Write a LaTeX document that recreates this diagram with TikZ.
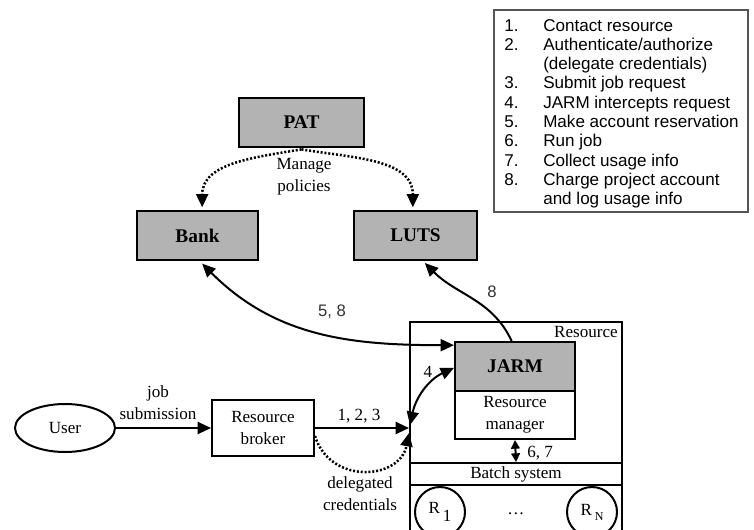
\documentclass[tikz,border=0pt]{standalone}
\usepackage{fontspec}
\setmainfont{Liberation Serif}
\newfontfamily\legendfont{Liberation Sans}
\usetikzlibrary{arrows.meta,shapes.geometric}
\definecolor{boxgray}{HTML}{B3B3B3}
\definecolor{legendline}{HTML}{555555}
\tikzset{
  lbl/.style={font=\fontsize{12.8}{16.5}\selectfont, align=center, inner sep=0pt},
  sanslbl/.style={font=\legendfont\fontsize{12.5}{15}\selectfont, inner sep=0pt, text=black!80},
  graybox/.style={draw, line width=1.5pt, fill=boxgray, font=\bfseries\fontsize{14.5}{16}\selectfont, inner sep=0pt, minimum height=36.75pt},
  whitebox/.style={draw, line width=1.5pt, fill=white, font=\fontsize{12.8}{16.5}\selectfont, align=center, inner sep=0pt},
  lg/.style={font=\legendfont\fontsize{12.8}{15}\selectfont, inner sep=0pt, anchor=base west},
  tipb/.tip={Triangle[length=10pt,width=9pt]},
  tips/.tip={Triangle[length=6.5pt,width=6.5pt]},
  arr/.style={line width=1.5pt, -tipb},
  dblarr/.style={line width=1.5pt, tipb-tipb},
  smalldbl/.style={line width=1.5pt, tips-tips},
  dotarr/.style={line width=1.9pt, dash pattern=on 1.5pt off 1.4pt, -tipb},
}
\begin{document}
\begin{tikzpicture}[x=0.75pt,y=-0.75pt]
\useasboundingbox (0,0) rectangle (754,529);

% legend
\node[draw=legendline, line width=0.8pt, minimum width=190.5pt, minimum height=151.5pt, inner sep=0pt] (legend) at (621,111) {};
\foreach \n/\t [count=\i from 0] in {1./Contact resource, 2./Authenticate\slash authorize, /(delegate credentials), 3./Submit job request, 4./JARM intercepts request, 5./Make account reservation, 6./Run job, 7./Collect usage info, 8./Charge project account, /and log usage info}{
  \pgfmathsetmacro{\yy}{31+19.33*\i}
  \node[lg] (ln\i) at (504,\yy) {\n};
  \node[lg] (lt\i) at (543,\yy) {\t};
}

% top boxes
\node[graybox, minimum width=93.75pt] (pat) at (301.5,122.5) {PAT};
\node[graybox, minimum width=90.75pt] (bank) at (197.5,235.5) {Bank};
\node[graybox, minimum width=92.25pt] (luts) at (415.5,235.5) {LUTS};

% resource container (cropped at bottom)
\begin{scope}
\clip (0,0) rectangle (754,529);
\node[draw, line width=1.5pt, minimum width=159pt, minimum height=168pt, inner sep=0pt] (resource) at (516,434) {};
\node[draw, line width=1.5pt, circle, minimum size=37.5pt, inner sep=0pt, font=\fontsize{12.8}{15}\selectfont] (r1) at (440,512) {R\,\raisebox{-0.45em}{1}};
\node[draw, line width=1.5pt, circle, minimum size=37.5pt, inner sep=0pt, font=\fontsize{12.8}{15}\selectfont] (rn) at (592,512) {R\,\raisebox{-0.3em}{\small N}};
\end{scope}
\node[lbl, anchor=base east] (reslbl) at (618,337) {Resource};
\node[graybox, minimum width=90pt] (jarm) at (515,366.5) {JARM};
\node[whitebox, minimum width=90pt, minimum height=36pt] (rm) at (515,415) {Resource\\manager};
\node[whitebox, minimum width=159pt, minimum height=16.5pt] (batch) at (516,474) {Batch system};
\node[lbl] (dots) at (516,514) {\dots};

% left side
\node[draw, line width=1.5pt, ellipse, minimum width=75pt, minimum height=36pt, inner sep=0pt, font=\fontsize{12.8}{15}\selectfont] (user) at (65,428) {User};
\node[whitebox, minimum width=76.5pt, minimum height=42pt] (broker) at (263,428) {Resource\\broker};

\coordinate (J) at (409,428);
\coordinate (Jup) at (410,425);
\coordinate (Jdn) at (409,433);

% connectors
\draw[arr] (user) -- (broker);
\draw[arr] (broker.east) -- (J);
\draw[dotarr] ([yshift=-6pt]broker.east) .. controls (330,485) and (400,480) .. (Jdn);
\draw[dblarr] (Jup) to[out=78, in=205] ([yshift=-1pt]jarm.west);
\draw[dblarr] ([xshift=3.5pt,yshift=-2pt]bank.south) to[out=-45, in=180] ([yshift=16pt]jarm.west);
\draw[arr] ([xshift=-2.5pt]jarm.north) to[out=115, in=-45] ([xshift=7pt,yshift=-1.5pt]luts.south);
\draw[dotarr] ([yshift=-1pt]pat.south) to[out=190, in=90] ([xshift=3.5pt,yshift=2pt]bank.north);
\draw[dotarr] ([yshift=-1pt]pat.south) to[out=-10, in=90] ([xshift=-2pt,yshift=2pt]luts.north);
\draw[smalldbl] (rm.south) -- (batch.north);

% labels
\node[lbl] (jobsub) at (158,403) {job\\submission};
\node[lbl] (l123) at (359,416) {1, 2, 3};
\node[lbl] (deleg) at (360,494) {delegated\\credentials};
\node[lbl] (l4) at (428,372) {4};
\node[sanslbl] (l58) at (332,312) {5, 8};
\node[sanslbl] (l8) at (492,292) {8};
\node[lbl] (manage) at (304,177) {Manage\\policies};
\node[lbl, anchor=west] (l67) at (527,453) {6, 7};
\end{tikzpicture}
\end{document}
